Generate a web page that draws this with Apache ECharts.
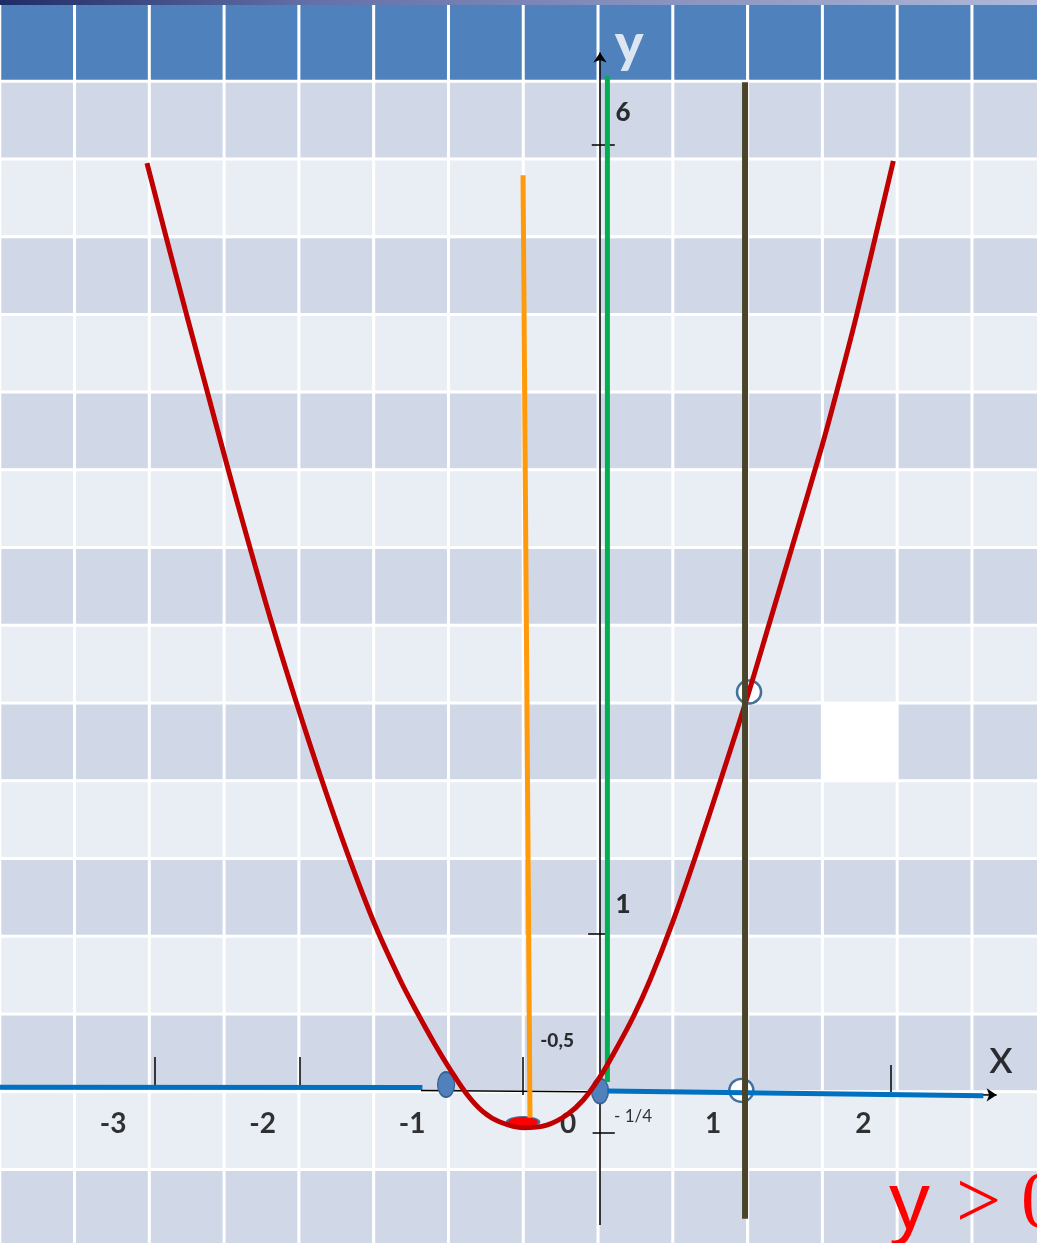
<!DOCTYPE html>
<html lang="ru">
<head>
<meta charset="UTF-8" />
<title>y = x² + x</title>
<script src="https://cdn.jsdelivr.net/npm/echarts@6/dist/echarts.min.js"></script>
<style>
  * { margin: 0; padding: 0; box-sizing: border-box; }
  body { overflow: hidden; background: #fff; }
  #chart { width: 1037px; height: 1243px; }
</style>
</head>
<body>
<div id="chart"></div>
<script>
// ---- slide table behind the plot ----
const tableCols = ['c0','c1','c2','c3','c4','c5','c6','c7','c8','c9','c10','c11','c12','c13'];
const rowShade = ['head','dark','light','dark','light','dark','light','dark','light','dark','light','dark','light','dark','light','dark'];
const blankCell = [11, 9];

// ---- the curve (axis units) ----
const curveX = [-3.061, -2.928, -2.793, -2.655, -2.515, -2.370, -2.220, -2.057, -1.889, -1.707,
  -1.520, -1.347, -1.237, -1.121, -1.010, -0.901, -0.789, -0.676, -0.518,
  -0.360, -0.225, -0.113, 0.000, 0.113, 0.225, 0.338, 0.491, 0.653, 0.824,
  0.991, 1.149, 1.301, 1.498, 1.599, 1.734, 1.982];
const curveY = [5.888, 5.406, 4.924, 4.442, 3.953, 3.464, 2.976, 2.481, 1.999, 1.510,
  1.053, 0.698, 0.501, 0.305, 0.133, -0.019, -0.133, -0.197, -0.233,
  -0.216, -0.152, -0.057, 0.089, 0.273, 0.471, 0.704, 1.072, 1.510, 1.999,
  2.487, 2.982, 3.461, 4.086, 4.435, 4.924, 5.901];

// vertical guide lines [x1, y1, x2, y2]
const orangeLine = [-0.52, 5.81, -0.473, -0.17];
const greenLine = [0.05, 6.44, 0.05, 0.057];
const oliveLine = [0.98, 6.40, 0.98, -0.81];

// number line (blue pieces) and the black axes
const blueLeft = [-4.06, 0.023, -1.20, 0.022];
const blueRight = [0.05, 0.0, 2.59, -0.03];
const axisX = [-1.21, 0.003, 2.68, -0.025];
const axisY = [0, -0.85, 0, 6.59];

// hand drawn tick marks [x1, y1, x2, y2]
const tickMarks = [
  [-3.01, 0.216, -3.01, 0.025],
  [-2.03, 0.216, -2.03, 0.025],
  [-0.522, 0.216, -0.522, -0.025],
  [1.964, 0.165, 1.964, -0.006],
  [-0.056, 6.003, 0.10, 6.003],
  [-0.08, 0.999, 0.034, 0.999],
  [-0.05, -0.268, 0.10, -0.268]
];

// points
const rootPts = [[-1.04, 0.041], [0, 0]];
const vertexPt = [[-0.52, -0.197]];
const openPts = [[1.007, 2.532], [0.955, 0.004]];

// labels
const xLabels = ['-3', '-2', '-1', '0', '1', '2'];
const xLabelAt = [-3.29, -2.28, -1.27, -0.216, 0.765, 1.78];
const xLabelY = -0.21;
const yLabels = ['6', '1'];
const yLabelAt = [6.208, 1.18];
const yLabelX = 0.155;

const myChart = echarts.init(document.getElementById('chart'));

// background cells
const shadeCode = { head: 0, dark: 1, light: 2, blank: 3 };
const cells = [];
rowShade.forEach((s, r) => {
  tableCols.forEach((c, ci) => {
    const code = (ci === blankCell[0] && r === blankCell[1]) ? shadeCode.blank : shadeCode[s];
    cells.push([ci, r, code]);
  });
});

function seg(a) { return [[a[0], a[1]], [a[2], a[3]]]; }

function plainLine(pts, color, width) {
  return {
    type: 'line', xAxisIndex: 1, yAxisIndex: 1, data: seg(pts),
    symbol: 'none', silent: true,
    lineStyle: { color: color, width: width, cap: 'butt' }
  };
}

function textSeries(xs, ys, texts, style) {
  return {
    type: 'scatter', xAxisIndex: 1, yAxisIndex: 1, symbolSize: 0, silent: true,
    data: xs.map((x, i) => [x, Array.isArray(ys) ? ys[i] : ys]),
    label: Object.assign({
      show: true, position: 'inside',
      formatter: (p) => texts[p.dataIndex],
      color: '#000', fontFamily: 'Lato', fontWeight: 'bold'
    }, style)
  };
}

const option = {
  animation: false,
  backgroundColor: '#fff',
  grid: [
    { left: 0, top: 3.7, width: 1047, height: 1243.7, outerBoundsMode: 'none', containLabel: false },
    { left: 0, right: 0, top: 0, bottom: 0, outerBoundsMode: 'none' }
  ],
  xAxis: [
    { type: 'category', gridIndex: 0, data: tableCols, show: false },
    { type: 'value', gridIndex: 1, min: -4.0541, max: 2.9527, show: false }
  ],
  yAxis: [
    { type: 'category', gridIndex: 0, data: rowShade.map((s, i) => 'r' + i), inverse: true, show: false },
    { type: 'value', gridIndex: 1, min: -0.9645, max: 6.9226, show: false }
  ],
  visualMap: {
    type: 'piecewise', show: false, seriesIndex: 0, dimension: 2,
    pieces: [
      { value: 0, color: '#4F81BD' },
      { value: 1, color: '#D0D8E8' },
      { value: 2, color: '#E9EDF4' },
      { value: 3, color: '#FFFFFF' }
    ]
  },
  title: {
    text: '{a|у}{b| > 0}',
    left: 884, top: 1160,
    textStyle: {
      rich: {
        a: { fontFamily: 'Liberation Sans', fontWeight: 'normal', fontSize: 82, color: '#FF0000' },
        b: { fontFamily: 'Liberation Serif', fontWeight: 'normal', fontSize: 80, color: '#FF0000', padding: [0, 0, 0, 6] }
      }
    }
  },
  graphic: [{
    type: 'rect', left: 0, top: 0, z: 100,
    shape: { width: 1037, height: 5 },
    style: {
      fill: new echarts.graphic.LinearGradient(0, 0, 1, 0, [
        { offset: 0, color: '#1E2B66' },
        { offset: 0.3, color: '#6470A8' },
        { offset: 1, color: '#AEB8D8' }
      ])
    }
  }],
  series: [
    {
      type: 'heatmap', xAxisIndex: 0, yAxisIndex: 0, data: cells, silent: true,
      itemStyle: { borderColor: '#FFFFFF', borderWidth: 3 },
      emphasis: { disabled: true }
    },
    plainLine(blueLeft, '#0070C0', 5),
    plainLine(blueRight, '#0070C0', 5),
    {
      type: 'lines', coordinateSystem: 'cartesian2d', xAxisIndex: 1, yAxisIndex: 1, silent: true,
      symbol: ['none', 'arrow'], symbolSize: 10,
      lineStyle: { color: '#000', width: 1.5, opacity: 1 },
      data: [{ coords: seg(axisX) }, { coords: seg(axisY) }]
    },
    {
      type: 'lines', coordinateSystem: 'cartesian2d', xAxisIndex: 1, yAxisIndex: 1, silent: true,
      lineStyle: { color: '#000', width: 1.5, opacity: 1 },
      data: tickMarks.map((t) => ({ coords: seg(t) }))
    },
    plainLine(orangeLine, '#FF9A0A', 5),
    plainLine(greenLine, '#00B050', 5),
    {
      type: 'line', xAxisIndex: 1, yAxisIndex: 1, silent: true,
      data: curveX.map((x, i) => [x, curveY[i]]),
      smooth: 0.35, symbol: 'none',
      lineStyle: { color: '#C00000', width: 5 }
    },
    {
      type: 'scatter', xAxisIndex: 1, yAxisIndex: 1, silent: true,
      data: openPts, symbol: 'circle', symbolSize: [24, 23],
      itemStyle: { color: '#FFFFFF', borderColor: '#41719C', borderWidth: 2.5, opacity: 1 }
    },
    plainLine(oliveLine, '#4A452A', 6),
    {
      type: 'scatter', xAxisIndex: 1, yAxisIndex: 1, silent: true,
      data: rootPts, symbol: 'circle', symbolSize: [17, 25],
      itemStyle: { color: '#4F81BD', borderColor: '#3A5F8E', borderWidth: 1.5, opacity: 1 }
    },
    {
      type: 'scatter', xAxisIndex: 1, yAxisIndex: 1, silent: true,
      data: vertexPt, symbol: 'circle', symbolSize: [32, 11],
      itemStyle: { color: '#FF0000', borderColor: '#41719C', borderWidth: 1.5, opacity: 1 }
    },
    textSeries(xLabelAt, xLabelY, xLabels, { fontSize: 28 }),
    textSeries([yLabelX, yLabelX], yLabelAt, yLabels, { fontSize: 26, fontWeight: 900 }),
    textSeries([-0.29], [0.317], ['-0,5'], { fontSize: 19, fontWeight: 900 }),
    textSeries([0.223], [-0.162], ['- 1/4'], { fontSize: 17, fontWeight: 'normal' }),
    textSeries([2.709], [0.214], ['x'], { fontSize: 48, fontWeight: 'normal' }),
    textSeries([0.196], [6.641], ['y'], { fontSize: 54, fontWeight: 900, color: '#FFFFFF' })
  ]
};

myChart.setOption(option);
</script>
</body>
</html>
